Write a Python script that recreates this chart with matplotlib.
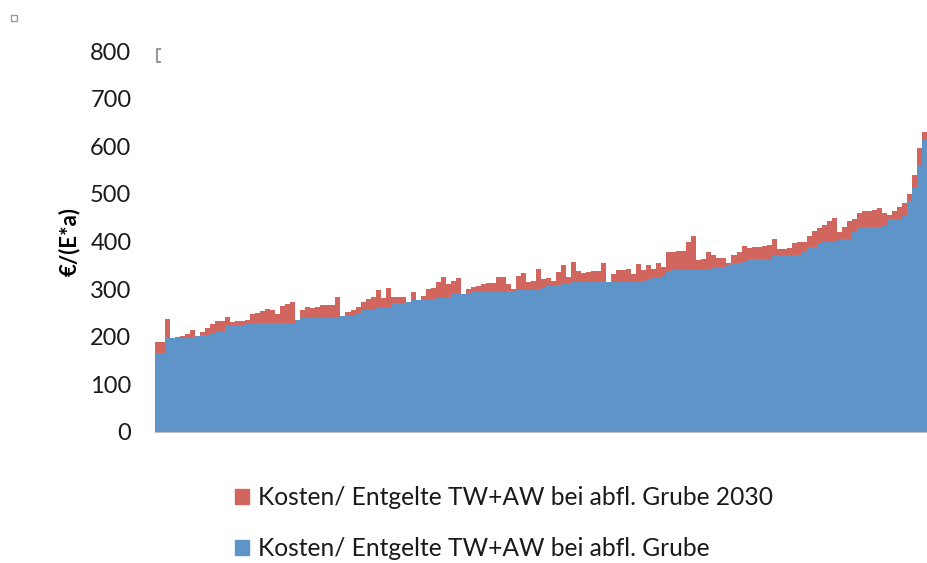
import numpy as np
import matplotlib.pyplot as plt
from matplotlib.patches import Rectangle
from matplotlib.lines import Line2D

# Kosten je Einwohner und Jahr, aufsteigend sortiert
grube = [166, 166, 197, 197, 197, 197, 197, 199, 201, 204,
         204, 207, 210, 210, 225, 225, 225, 225, 226, 229,
         229, 229, 229, 229, 229, 229, 229, 229, 235, 240,
         240, 241, 242, 242, 242, 242, 242, 244, 244, 244,
         250, 256, 256, 256, 260, 260, 262, 270, 270, 270,
         272, 277, 277, 277, 280, 280, 284, 284, 284, 290,
         290, 290, 291, 293, 293, 293, 293, 293, 293, 293,
         296, 296, 299, 299, 299, 300, 300, 302, 307, 307,
         309, 310, 312, 314, 316, 316, 316, 316, 316, 316,
         316, 316, 317, 317, 317, 317, 317, 318, 320, 323,
         323, 328, 336, 340, 340, 340, 341, 341, 341, 342,
         342, 344, 346, 346, 350, 354, 354, 358, 363, 363,
         363, 363, 363, 372, 372, 372, 372, 372, 372, 380,
         389, 389, 395, 400, 400, 400, 405, 405, 405, 420,
         430, 430, 430, 430, 430, 435, 447, 447, 447, 455,
         485, 512, 561, 613]

grube_2030 = [189, 189, 238, 197, 200, 202, 206, 214, 201, 210,
              218, 226, 233, 233, 242, 232, 234, 234, 236, 248,
              250, 254, 258, 256, 248, 265, 268, 272, 235, 257,
              262, 260, 263, 266, 267, 267, 284, 244, 252, 256,
              262, 274, 280, 284, 298, 282, 302, 284, 284, 284,
              272, 294, 277, 286, 300, 302, 316, 326, 310, 318,
              324, 290, 300, 305, 307, 310, 312, 312, 325, 325,
              310, 300, 328, 333, 316, 317, 342, 321, 323, 318,
              337, 351, 325, 358, 339, 333, 336, 339, 339, 355,
              316, 332, 340, 340, 343, 332, 352, 340, 351, 343,
              354, 346, 378, 379, 381, 381, 400, 412, 362, 363,
              379, 372, 365, 365, 354, 372, 377, 390, 386, 389,
              389, 391, 393, 405, 385, 384, 386, 396, 398, 398,
              412, 421, 429, 435, 442, 450, 420, 430, 442, 448,
              460, 463, 463, 466, 470, 460, 455, 465, 472, 480,
              500, 540, 596, 629]

label_2030 = "Kosten/ Entgelte TW+AW bei abfl. Grube 2030"
label_heute = "Kosten/ Entgelte TW+AW bei abfl. Grube"
yticks = [0, 100, 200, 300, 400, 500, 600, 700, 800]

rot = "#D0665E"
blau = "#5E94C7"

plt.rcParams["font.family"] = ["Lato", "DejaVu Sans"]

fig = plt.figure(figsize=(9.27, 5.63), dpi=100)
ax = fig.add_axes([155 / 927, 131 / 563, 772 / 927, 381 / 563])

n = len(grube)
kanten = np.arange(n + 1)
ax.stairs(grube_2030, kanten, fill=True, color=rot, linewidth=0)
ax.stairs(grube, kanten, fill=True, color=blau, linewidth=0)

ax.set_xlim(0, n)
ax.set_ylim(0, 800)
ax.set_yticks(yticks)
ax.set_xticks([])
ax.tick_params(axis="y", length=0, pad=17, labelsize=17, labelcolor="#1a1a1a")
for s in ["top", "right", "left"]:
    ax.spines[s].set_visible(False)
ax.spines["bottom"].set_color("#bfbfbf")
ax.spines["bottom"].set_linewidth(0.8)
ax.set_ylabel("€/(E*a)", fontsize=16, fontweight="bold", labelpad=7)

handles = [Rectangle((0, 0), 1, 1, color=rot), Rectangle((0, 0), 1, 1, color=blau)]
fig.legend(handles, [label_2030, label_heute], loc="upper left",
           bbox_to_anchor=(213 / 927, 1 - 464 / 563), frameon=False,
           fontsize=17.7, handlelength=0.55, handleheight=0.55,
           handletextpad=0.4, labelspacing=1.15, labelcolor="#1a1a1a")

# kleine Markierungen oben links
fig.add_artist(Rectangle((11 / 927, 1 - 21 / 563), 6 / 927, 6 / 563,
                         transform=fig.transFigure, fill=False,
                         edgecolor="#999999", linewidth=1))
fig.add_artist(Line2D([160 / 927, 157 / 927, 157 / 927, 160 / 927],
                      [1 - 49 / 563, 1 - 49 / 563, 1 - 62 / 563, 1 - 62 / 563],
                      transform=fig.transFigure, color="#999999", linewidth=1.5))

fig.savefig("out.png", dpi=100)
